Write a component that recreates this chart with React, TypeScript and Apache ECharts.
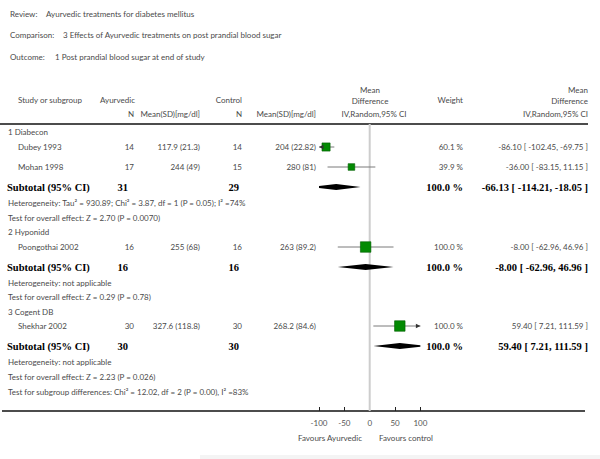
import React, { useEffect, useRef } from "react";
import * as echarts from "echarts";

// ---------- data ----------
const rowKinds = [
  "group", "study", "study", "subtotal", "note", "note",
  "group", "study", "subtotal", "note", "note",
  "group", "study", "subtotal", "note", "note", "note",
];
const rowLabels = [
  "1 Diabecon",
  "Dubey 1993",
  "Mohan 1998",
  "Subtotal (95% CI)",
  "Heterogeneity: Tau² = 930.89; Chi² = 3.87, df = 1 (P = 0.05); I² =74%",
  "Test for overall effect: Z = 2.70 (P = 0.0070)",
  "2 Hyponidd",
  "Poongothai 2002",
  "Subtotal (95% CI)",
  "Heterogeneity: not applicable",
  "Test for overall effect: Z = 0.29 (P = 0.78)",
  "3 Cogent DB",
  "Shekhar 2002",
  "Subtotal (95% CI)",
  "Heterogeneity: not applicable",
  "Test for overall effect: Z = 2.23 (P = 0.026)",
  "Test for subgroup differences: Chi² = 12.02, df = 2 (P = 0.00), I² =83%",
];
const ayurvedicN = ["", "14", "17", "31", "", "", "", "16", "16", "", "", "", "30", "30", "", "", ""];
const ayurvedicMeanSD = ["", "117.9 (21.3)", "244 (49)", "", "", "", "", "255 (68)", "", "", "", "", "327.6 (118.8)", "", "", "", ""];
const controlN = ["", "14", "15", "29", "", "", "", "16", "16", "", "", "", "30", "30", "", "", ""];
const controlMeanSD = ["", "204 (22.82)", "280 (81)", "", "", "", "", "263 (89.2)", "", "", "", "", "268.2 (84.6)", "", "", "", ""];
const weightTexts = ["", "60.1 %", "39.9 %", "100.0 %", "", "", "", "100.0 %", "100.0 %", "", "", "", "100.0 %", "100.0 %", "", "", ""];
const mdTexts = [
  "", "-86.10 [ -102.45, -69.75 ]", "-36.00 [ -83.15, 11.15 ]", "-66.13 [ -114.21, -18.05 ]", "", "",
  "", "-8.00 [ -62.96, 46.96 ]", "-8.00 [ -62.96, 46.96 ]", "", "",
  "", "59.40 [ 7.21, 111.59 ]", "59.40 [ 7.21, 111.59 ]", "", "", "",
];

const studyRows = [1, 2, 7, 12];
const studyEst = [-86.1, -36.0, -8.0, 59.4];
const studyLow = [-102.45, -83.15, -62.96, 7.21];
const studyHigh = [-69.75, 11.15, 46.96, 111.59];
const studyWeight = [60.1, 39.9, 100, 100];

const subtotalRows = [3, 8, 13];
const subtotalEst = [-66.13, -8.0, 59.4];
const subtotalLow = [-114.21, -62.96, 7.21];
const subtotalHigh = [-18.05, 46.96, 111.59];

// ---------- layout / style ----------
const W = 600;
const H = 459;
const TOP = 124;
const AXIS_Y = 411;
const PLOT_L = 319;
const PLOT_R = 420.4;
const XMIN = -100;
const XMAX = 100;
// vertical position (px from the page top) of each table row
const rowY = [132, 147, 167, 187, 203, 218, 232, 247, 267, 283, 297, 312, 326, 346, 362, 377, 392];
const FONT = "Lato, 'Open Sans', sans-serif";
const SERIF = "'Liberation Serif', 'DejaVu Serif', serif";
const TXT = "#4a4a4a";
const FS = 8;
const BFS = 10.5;

type Cell = { x: number; row: number; text: string; align: string; bold: boolean };

function buildCells(): Cell[] {
  const cells: Cell[] = [];
  rowLabels.forEach((label, r) => {
    const kind = rowKinds[r];
    const x = kind === "study" ? 18 : kind === "subtotal" ? 7 : 8;
    const bold = kind === "subtotal";
    cells.push({ x, row: r, text: label, align: "left", bold });
    if (ayurvedicN[r]) cells.push({ x: bold ? 128 : 134, row: r, text: ayurvedicN[r], align: "right", bold });
    if (ayurvedicMeanSD[r]) cells.push({ x: 200, row: r, text: ayurvedicMeanSD[r], align: "right", bold });
    if (controlN[r]) cells.push({ x: bold ? 239 : 242, row: r, text: controlN[r], align: "right", bold });
    if (controlMeanSD[r]) cells.push({ x: 316, row: r, text: controlMeanSD[r], align: "right", bold });
    if (weightTexts[r]) cells.push({ x: 463, row: r, text: weightTexts[r], align: "right", bold });
    if (mdTexts[r]) cells.push({ x: 588, row: r, text: mdTexts[r], align: "right", bold });
  });
  return cells;
}

function hdr(text: string, x: number, y: number, align = "left") {
  return {
    type: "text",
    x,
    y,
    silent: true,
    style: { text, align, verticalAlign: "middle", fill: TXT, fontSize: FS, fontFamily: FONT },
  };
}

export default function App() {
  const ref = useRef<HTMLDivElement>(null);
  useEffect(() => {
    if (!ref.current) return;
    const chart = echarts.init(ref.current, undefined, { renderer: "svg" });
    const cells = buildCells();

    const yAxisBase = { type: "value", min: TOP, max: AXIS_Y, inverse: true, show: false };

    const option: any = {
      animation: false,
      backgroundColor: "#ffffff",
      grid: [
        { left: 0, right: 0, top: TOP, bottom: H - AXIS_Y, containLabel: false },
        { left: PLOT_L, right: W - PLOT_R, top: TOP, bottom: H - AXIS_Y, containLabel: false },
      ],
      xAxis: [
        { type: "value", gridIndex: 0, min: 0, max: W, show: false },
        {
          type: "value",
          gridIndex: 1,
          min: XMIN,
          max: XMAX,
          interval: 50,
          position: "bottom",
          axisLine: { show: false, onZero: false },
          axisTick: { show: true, inside: true, length: 4, lineStyle: { color: "#222", width: 1 } },
          axisLabel: { fontSize: FS, fontFamily: FONT, color: "#555", margin: 8 },
          splitLine: { show: false },
        },
      ],
      yAxis: [
        { ...yAxisBase, gridIndex: 0 },
        { ...yAxisBase, gridIndex: 1 },
      ],
      graphic: [
        hdr("Review:", 10, 14),
        hdr("Ayurvedic treatments for diabetes mellitus", 46, 14),
        hdr("Comparison:", 10, 35),
        hdr("3 Effects of Ayurvedic treatments on post prandial blood sugar", 63, 35),
        hdr("Outcome:", 10, 57),
        hdr("1 Post prandial blood sugar at end of study", 55, 57),
        hdr("Study or subgroup", 18, 100),
        hdr("Ayurvedic", 135, 100, "right"),
        hdr("Control", 242, 100, "right"),
        hdr("Mean", 370, 90, "center"),
        hdr("Difference", 370, 101, "center"),
        hdr("Weight", 463, 100, "right"),
        hdr("Mean", 588, 90, "right"),
        hdr("Difference", 588, 101, "right"),
        hdr("N", 134, 114, "right"),
        hdr("Mean(SD)[mg/dl]", 200, 114, "right"),
        hdr("N", 242, 114, "right"),
        hdr("Mean(SD)[mg/dl]", 316, 114, "right"),
        hdr("IV,Random,95% CI", 374, 114, "center"),
        hdr("IV,Random,95% CI", 588, 114, "right"),
        hdr("Favours Ayurvedic", 330, 438, "center"),
        hdr("Favours control", 406, 438, "center"),
        {
          type: "line",
          silent: true,
          shape: { x1: 0, y1: TOP, x2: 588, y2: TOP },
          style: { stroke: "#111", lineWidth: 1.5 },
        },
        {
          type: "line",
          silent: true,
          shape: { x1: 2, y1: AXIS_Y, x2: 585, y2: AXIS_Y },
          style: { stroke: "#111", lineWidth: 1.5 },
        },
        {
          type: "rect",
          silent: true,
          shape: { x: 200, y: 455, width: 400, height: 4 },
          style: { fill: "#f4f4f4" },
        },
      ],
      series: [
        {
          type: "line",
          xAxisIndex: 1,
          yAxisIndex: 1,
          silent: true,
          symbol: "none",
          z: 1,
          lineStyle: { color: "#cdcdcd", width: 2 },
          data: [[0, TOP], [0, AXIS_Y]],
        },
        {
          type: "custom",
          xAxisIndex: 0,
          yAxisIndex: 0,
          silent: true,
          z: 3,
          encode: { x: 0, y: 1 },
          data: cells.map((c) => [c.x, rowY[c.row]]),
          renderItem: (params: any, api: any) => {
            const c = cells[params.dataIndex];
            const p = api.coord([api.value(0), api.value(1)]);
            return {
              type: "text",
              x: p[0],
              y: p[1],
              style: {
                text: c.text,
                align: c.align,
                verticalAlign: "middle",
                fill: c.bold ? "#000" : TXT,
                fontSize: c.bold ? BFS : FS,
                fontFamily: c.bold ? SERIF : FONT,
                fontWeight: c.bold ? "bold" : "normal",
              },
            };
          },
        },
        {
          type: "custom",
          xAxisIndex: 1,
          yAxisIndex: 1,
          silent: true,
          z: 4,
          encode: { x: [0, 1, 2], y: 3 },
          data: studyRows.map((r, i) => [studyEst[i], studyLow[i], studyHigh[i], rowY[r], studyWeight[i]]),
          renderItem: (params: any, api: any) => {
            const est = api.value(0);
            const lo = api.value(1);
            const hi = api.value(2);
            const row = api.value(3);
            const w = api.value(4);
            const pl = api.coord([Math.max(lo, XMIN), row]);
            const ph = api.coord([Math.min(hi, XMAX), row]);
            const pe = api.coord([est, row]);
            const s = 10.5 * Math.sqrt(w / 100);
            const children: any[] = [
              {
                type: "line",
                shape: { x1: pl[0], y1: pl[1], x2: ph[0], y2: ph[1] },
                style: { stroke: "#7a7a7a", lineWidth: 1 },
              },
              {
                type: "rect",
                shape: { x: pe[0] - s / 2, y: pe[1] - s / 2, width: s, height: s },
                style: { fill: "#038a03", stroke: "#015e01", lineWidth: 0.6 },
              },
            ];
            if (lo < XMIN) {
              children.push({
                type: "polygon",
                shape: { points: [[pl[0], pl[1]], [pl[0] + 4.5, pl[1] - 2.3], [pl[0] + 4.5, pl[1] + 2.3]] },
                style: { fill: "#333" },
              });
            }
            if (hi > XMAX) {
              children.push({
                type: "polygon",
                shape: { points: [[ph[0], ph[1]], [ph[0] - 4.5, ph[1] - 2.3], [ph[0] - 4.5, ph[1] + 2.3]] },
                style: { fill: "#333" },
              });
            }
            return { type: "group", children };
          },
        },
        {
          type: "custom",
          xAxisIndex: 1,
          yAxisIndex: 1,
          silent: true,
          z: 4,
          encode: { x: [0, 1, 2], y: 3 },
          data: subtotalRows.map((r, i) => [subtotalEst[i], subtotalLow[i], subtotalHigh[i], rowY[r]]),
          renderItem: (params: any, api: any) => {
            const est = api.value(0);
            const lo = api.value(1);
            const hi = api.value(2);
            const row = api.value(3);
            const h = 3;
            const pe = api.coord([est, row]);
            const pLo = api.coord([lo, row]);
            const pHi = api.coord([hi, row]);
            const pts: number[][] = [];
            if (lo < XMIN) {
              const pm = api.coord([XMIN, row]);
              const f = (pe[0] - pm[0]) / (pe[0] - pLo[0]);
              pts.push([pm[0], pe[1] + h * (1 - f)]);
              pts.push([pm[0], pe[1] - h * (1 - f)]);
            } else {
              pts.push([pLo[0], pLo[1]]);
            }
            pts.push([pe[0], pe[1] - h]);
            if (hi > XMAX) {
              const pm = api.coord([XMAX, row]);
              const f = (pm[0] - pe[0]) / (pHi[0] - pe[0]);
              pts.push([pm[0], pe[1] - h * (1 - f)]);
              pts.push([pm[0], pe[1] + h * (1 - f)]);
            } else {
              pts.push([pHi[0], pHi[1]]);
            }
            pts.push([pe[0], pe[1] + h]);
            return { type: "polygon", shape: { points: pts }, style: { fill: "#000" } };
          },
        },
      ],
    };
    chart.setOption(option);
    return () => chart.dispose();
  }, []);

  return (
    <div
      ref={ref}
      style={{ position: "fixed", left: 0, top: 0, width: W, height: H, background: "#fff" }}
    />
  );
}
